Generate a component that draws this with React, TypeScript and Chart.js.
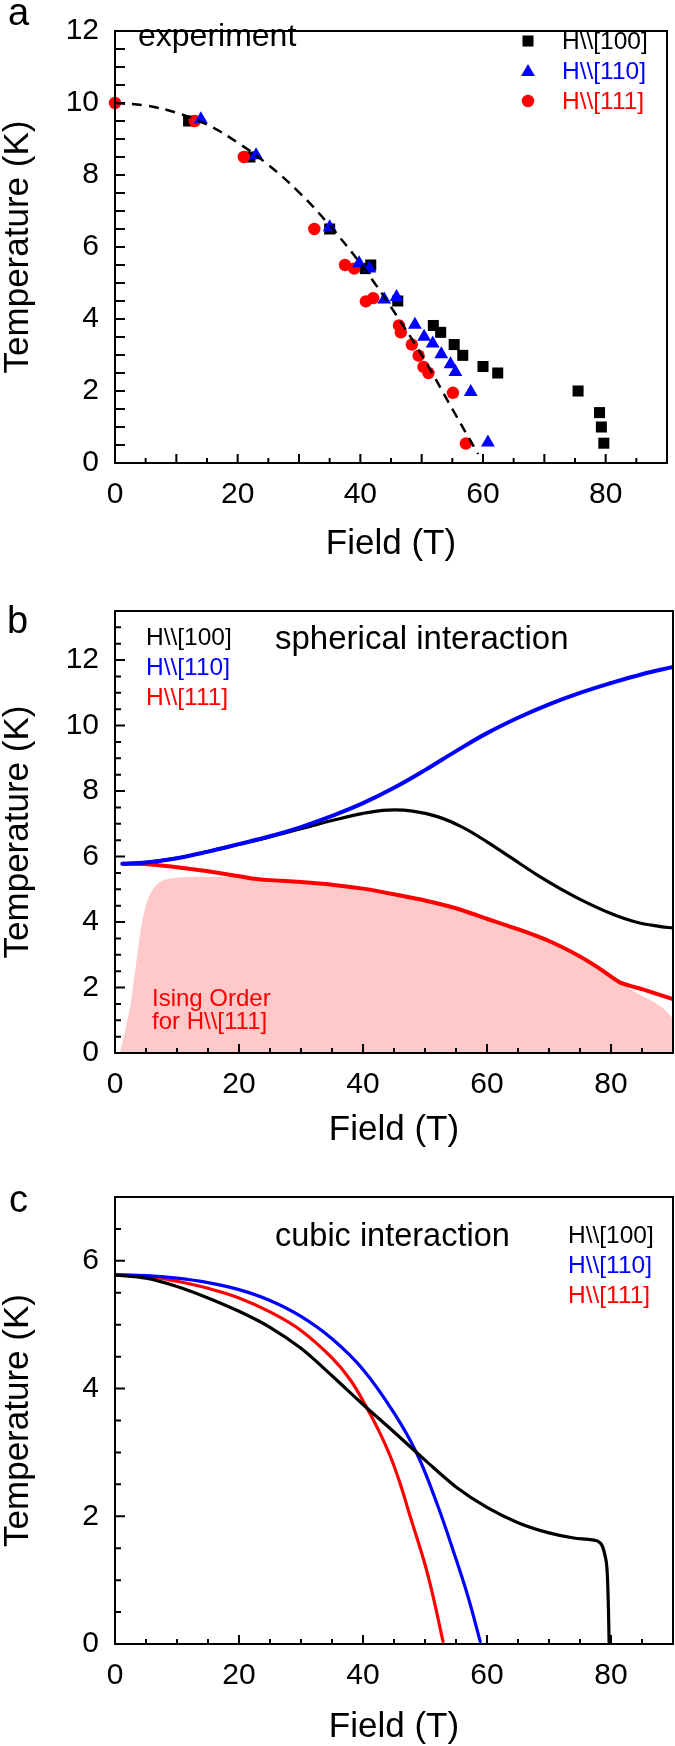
import React, { useEffect, useRef } from "react";
import { Chart, registerables } from "chart.js";
Chart.register(...registerables);

const FONT = '"Liberation Sans", Arial, sans-serif';
const BLUE = "#0000ff";
const RED = "#ff0000";
const BLACK = "#000000";
const PINK = "#ffc9c9";

// ---------- Panel a : experiment ----------
const fitField = [0, 5, 10, 15, 20, 25, 30, 35, 40, 42.2, 45, 50, 55, 59.2];
const fitTemp = [10, 9.93, 9.73, 9.4, 8.9, 8.28, 7.52, 6.6, 5.55, 5.03, 4.33, 3.0, 1.5, 0.25];

const exp100Field = [12, 22, 35, 40.8, 41.7, 46.1, 51.9, 53.1, 55.3, 56.7, 60.0, 62.4, 75.5, 79.0, 79.3, 79.7];
const exp100Temp = [9.5, 8.5, 6.5, 5.4, 5.5, 4.5, 3.82, 3.63, 3.29, 2.99, 2.68, 2.5, 2.0, 1.4, 1.0, 0.55];

const exp110Field = [14, 23, 35, 39.8, 41.5, 43.9, 45.9, 48.9, 50.4, 51.8, 53.2, 54.7, 55.5, 58.0, 60.8];
const exp110Temp = [9.55, 8.55, 6.55, 5.55, 5.4, 4.54, 4.61, 3.84, 3.51, 3.32, 3.02, 2.74, 2.53, 1.97, 0.57];

const exp111Field = [0, 13, 21, 32.5, 37.5, 39, 40.9, 42.1, 46.3, 46.6, 48.4, 49.5, 50.3, 51.1, 55.1, 57.2];
const exp111Temp = [10, 9.5, 8.5, 6.5, 5.5, 5.4, 4.49, 4.58, 3.82, 3.63, 3.29, 2.98, 2.67, 2.5, 1.95, 0.54];

// ---------- Panel b : spherical interaction ----------
const sph110Field = [1.2, 5, 10, 15, 20, 25, 30, 35, 40, 45, 50, 55, 60, 65, 70, 75, 80, 85, 90];
const sph110Temp = [5.78, 5.82, 5.95, 6.15, 6.38, 6.62, 6.9, 7.24, 7.63, 8.1, 8.64, 9.22, 9.77, 10.24, 10.65, 11.0, 11.3, 11.57, 11.79];

const sph100Field = [1.2, 5, 10, 15, 20, 25, 30, 35, 40, 44, 48, 52, 56, 60, 64, 68, 72, 76, 80, 84, 88, 90];
const sph100Temp = [5.78, 5.82, 5.95, 6.15, 6.38, 6.6, 6.85, 7.1, 7.32, 7.42, 7.39, 7.22, 6.9, 6.45, 5.95, 5.45, 5.0, 4.6, 4.26, 4.0, 3.86, 3.82];

const sph111Field = [1.2, 5, 10, 15, 20, 22, 25, 30, 35, 40, 45, 50, 55, 60, 65, 70, 75, 78, 81.5, 85, 90];
const sph111Temp = [5.78, 5.77, 5.67, 5.55, 5.4, 5.33, 5.28, 5.22, 5.14, 5.02, 4.85, 4.66, 4.42, 4.1, 3.78, 3.42, 2.95, 2.6, 2.15, 1.95, 1.65];

const isingField = [0.8, 1.4, 2.0, 2.6, 3.1, 3.6, 4.1, 4.7, 5.4, 6.3, 7.5, 9, 11, 15, 21, 22, 25, 30, 35, 40, 45, 50, 55, 60, 65, 70, 75, 78, 81.5, 84, 86.5, 88.5, 90];
const isingTemp = [0, 0.5, 1.0, 1.6, 2.3, 3.0, 3.7, 4.3, 4.75, 5.05, 5.25, 5.33, 5.37, 5.38, 5.37, 5.3, 5.24, 5.18, 5.1, 4.98, 4.81, 4.62, 4.38, 4.06, 3.74, 3.38, 2.91, 2.56, 2.12, 1.85, 1.6, 1.35, 1.05];

// ---------- Panel c : cubic interaction ----------
const cub100Field = [0, 5, 10, 15, 20, 25, 30, 35, 40, 45, 50, 55, 60, 65, 70, 74, 77, 78.3, 79, 79.4, 79.6, 79.7];
const cub100Temp = [5.78, 5.73, 5.6, 5.42, 5.21, 4.96, 4.63, 4.2, 3.75, 3.32, 2.88, 2.46, 2.14, 1.9, 1.74, 1.66, 1.63, 1.58, 1.4, 1.1, 0.5, 0];

const cub110Field = [0, 5, 10, 15, 20, 25, 30, 35, 40, 45, 48.7, 52, 55, 57, 58.9];
const cub110Temp = [5.78, 5.77, 5.73, 5.66, 5.55, 5.38, 5.13, 4.78, 4.3, 3.62, 2.98, 2.18, 1.33, 0.72, 0.04];

const cub111Field = [0, 5, 10, 15, 20, 25, 30, 35, 38, 40.6, 42.5, 44.4, 46, 47.6, 49, 50.3, 51.6, 52.9];
const cub111Temp = [5.78, 5.76, 5.68, 5.57, 5.42, 5.2, 4.91, 4.48, 4.13, 3.7, 3.35, 2.94, 2.51, 2.0, 1.57, 1.14, 0.62, 0.04];

// axis tick labels
const xTickStep = 20;
const yTickStep = 2;

const pts = (xs: number[], ys: number[]) => xs.map((x, i) => ({ x, y: ys[i] }));

type TextItem = { text: string; x: number; y: number; color: string; size: number; baseline?: CanvasTextBaseline };
type Marker = { style: "rect" | "triangle" | "circle"; x: number; y: number; color: string; r: number };

interface PanelCfg {
  top: number;
  height: number;
  chartTop: number;
  chartBottom: number;
  yMax: number;
  xMajor: number;
  yMajor: number;
  xTitlePad: number;
  datasets: any[];
  texts: TextItem[];
  markers: Marker[];
}

const R_RECT = 7.8;
const R_TRI = 8;
const R_CIRC = 6.2;

function drawMarker(ctx: CanvasRenderingContext2D, m: Marker) {
  ctx.fillStyle = m.color;
  ctx.beginPath();
  if (m.style === "rect") {
    const s = Math.SQRT1_2 * m.r;
    ctx.rect(m.x - s, m.y - s, 2 * s, 2 * s);
  } else if (m.style === "triangle") {
    ctx.moveTo(m.x, m.y - m.r);
    ctx.lineTo(m.x + 0.866 * m.r, m.y + 0.5 * m.r);
    ctx.lineTo(m.x - 0.866 * m.r, m.y + 0.5 * m.r);
    ctx.closePath();
  } else {
    ctx.arc(m.x, m.y, m.r, 0, Math.PI * 2);
  }
  ctx.fill();
}

function decorPlugin(cfg: PanelCfg) {
  return {
    id: "decor",
    afterDatasetsDraw(chart: any) {
      const { ctx, chartArea: a, scales } = chart;
      const xs = scales.x;
      const ys = scales.y;
      ctx.save();
      ctx.strokeStyle = BLACK;
      ctx.lineWidth = 2;
      ctx.beginPath();
      for (let v = 5; v < 90; v += 5) {
        const px = xs.getPixelForValue(v);
        const len = v % cfg.xMajor === 0 ? 9 : 5;
        ctx.moveTo(px, a.bottom);
        ctx.lineTo(px, a.bottom - len);
      }
      for (let k = 1; k * 0.5 < cfg.yMax - 1e-6; k++) {
        const v = k * 0.5;
        const py = ys.getPixelForValue(v);
        const len = Math.abs(v / cfg.yMajor - Math.round(v / cfg.yMajor)) < 1e-6 ? 10 : 6;
        ctx.moveTo(a.left, py);
        ctx.lineTo(a.left + len, py);
      }
      ctx.stroke();
      ctx.strokeRect(a.left, a.top, a.right - a.left, a.bottom - a.top);
      ctx.restore();
    },
    afterDraw(chart: any) {
      const ctx: CanvasRenderingContext2D = chart.ctx;
      ctx.save();
      for (const t of cfg.texts) {
        ctx.font = `${t.size}px ${FONT}`;
        ctx.fillStyle = t.color;
        ctx.textAlign = "left";
        ctx.textBaseline = t.baseline ?? "alphabetic";
        ctx.fillText(t.text, t.x, t.y);
      }
      for (const m of cfg.markers) drawMarker(ctx, m);
      ctx.restore();
    },
  };
}

function buildConfig(cfg: PanelCfg): any {
  const tickFont = { family: FONT, size: 30, lineHeight: 1 };
  const titleFont = { family: FONT, size: 35, lineHeight: 1 };
  return {
    type: "scatter",
    data: { datasets: cfg.datasets },
    plugins: [decorPlugin(cfg)],
    options: {
      animation: false,
      responsive: false,
      events: [],
      layout: { padding: { left: 0, right: 2, top: cfg.chartTop, bottom: 0 } },
      plugins: { legend: { display: false }, tooltip: { enabled: false } },
      scales: {
        x: {
          type: "linear",
          min: 0,
          max: 90,
          afterFit: (s: any) => {
            s.height = cfg.height - cfg.chartBottom;
          },
          grid: { display: false, drawTicks: false },
          border: { display: false },
          ticks: {
            stepSize: xTickStep,
            includeBounds: false,
            autoSkip: false,
            maxRotation: 0,
            padding: 17,
            color: BLACK,
            font: tickFont,
            callback: (v: number) => (v % xTickStep === 0 ? String(v) : ""),
          },
          title: { display: true, text: "Field (T)", color: BLACK, font: titleFont, padding: { top: 0, bottom: cfg.xTitlePad } },
        },
        y: {
          type: "linear",
          min: 0,
          max: cfg.yMax,
          afterFit: (s: any) => {
            s.width = 115;
          },
          grid: { display: false, drawTicks: false },
          border: { display: false },
          ticks: {
            stepSize: yTickStep,
            includeBounds: false,
            autoSkip: false,
            padding: 16,
            color: BLACK,
            font: tickFont,
            callback: (v: number) => (v % yTickStep === 0 ? String(v) : ""),
          },
          title: { display: true, text: "Temperature (K)", color: BLACK, font: titleFont, padding: { top: 1, bottom: 0 } },
        },
      },
    },
  };
}

const lineDs = (xs: number[], ys: number[], color: string, width: number, extra: any = {}) => ({
  data: pts(xs, ys),
  showLine: true,
  borderColor: color,
  backgroundColor: color,
  borderWidth: width,
  pointRadius: 0,
  tension: 0.4,
  borderJoinStyle: "round",
  borderCapStyle: "round",
  fill: false,
  ...extra,
});

const pointDs = (xs: number[], ys: number[], color: string, style: string, r: number) => ({
  data: pts(xs, ys),
  showLine: false,
  pointStyle: style,
  pointRadius: r,
  pointBackgroundColor: color,
  pointBorderColor: color,
  pointBorderWidth: 0,
  backgroundColor: color,
  borderColor: color,
  clip: false,
});

const L100 = "H\\\\[100]";
const L110 = "H\\\\[110]";
const L111 = "H\\\\[111]";

const panelA: PanelCfg = {
  top: 0,
  height: 580,
  chartTop: 14,
  chartBottom: 463,
  yMax: 12,
  xMajor: 10,
  yMajor: 0.5,
  xTitlePad: 18.5,
  datasets: [
    lineDs(fitField, fitTemp, BLACK, 2.5, { borderDash: [10, 7], borderCapStyle: "butt" }),
    pointDs(exp110Field, exp110Temp, BLUE, "triangle", R_TRI),
    pointDs(exp111Field, exp111Temp, RED, "circle", R_CIRC),
    pointDs(exp100Field, exp100Temp, BLACK, "rect", R_RECT),
  ],
  texts: [
    { text: "a", x: 8, y: 25, color: BLACK, size: 38 },
    { text: "experiment", x: 138, y: 46, color: BLACK, size: 32 },
    { text: L100, x: 562, y: 42, color: BLACK, size: 24.5, baseline: "middle" },
    { text: L110, x: 562, y: 72, color: BLUE, size: 24.5, baseline: "middle" },
    { text: L111, x: 562, y: 102, color: RED, size: 24.5, baseline: "middle" },
  ],
  markers: [
    { style: "rect", x: 528, y: 41, color: BLACK, r: R_RECT },
    { style: "triangle", x: 528, y: 72, color: BLUE, r: R_TRI },
    { style: "circle", x: 528, y: 101, color: RED, r: R_CIRC },
  ],
};

const panelB: PanelCfg = {
  top: 580,
  height: 580,
  chartTop: 24,
  chartBottom: 473,
  yMax: 13.5,
  xMajor: 20,
  yMajor: 2,
  xTitlePad: 12.5,
  datasets: [
    lineDs(sph110Field, sph110Temp, BLUE, 4),
    lineDs(sph100Field, sph100Temp, BLACK, 3.2),
    lineDs(sph111Field, sph111Temp, RED, 4, { tension: 0.2 }),
    lineDs(isingField, isingTemp, "rgba(0,0,0,0)", 0, { fill: "origin", backgroundColor: PINK, tension: 0.3 }),
  ],
  texts: [
    { text: "b", x: 7, y: 53, color: BLACK, size: 38 },
    { text: L100, x: 146, y: 58, color: BLACK, size: 24.5, baseline: "middle" },
    { text: L110, x: 146, y: 88, color: BLUE, size: 24.5, baseline: "middle" },
    { text: L111, x: 146, y: 118, color: RED, size: 24.5, baseline: "middle" },
    { text: "spherical interaction", x: 275, y: 69, color: BLACK, size: 33 },
    { text: "Ising Order", x: 152, y: 426, color: RED, size: 24 },
    { text: "for " + L111, x: 152, y: 449, color: RED, size: 24 },
  ],
  markers: [],
};

const panelC: PanelCfg = {
  top: 1160,
  height: 586,
  chartTop: 37,
  chartBottom: 484,
  yMax: 7,
  xMajor: 20,
  yMajor: 2,
  xTitlePad: 1.5,
  datasets: [
    lineDs(cub100Field, cub100Temp, BLACK, 3.2, { tension: 0, cubicInterpolationMode: "monotone" }),
    lineDs(cub110Field, cub110Temp, BLUE, 3.2),
    lineDs(cub111Field, cub111Temp, RED, 3.2),
  ],
  texts: [
    { text: "c", x: 9, y: 52, color: BLACK, size: 38 },
    { text: "cubic interaction", x: 275, y: 86, color: BLACK, size: 32.5 },
    { text: L100, x: 568, y: 76, color: BLACK, size: 24.5, baseline: "middle" },
    { text: L110, x: 568, y: 106, color: BLUE, size: 24.5, baseline: "middle" },
    { text: L111, x: 568, y: 136, color: RED, size: 24.5, baseline: "middle" },
  ],
  markers: [],
};

function Panel({ cfg }: { cfg: PanelCfg }) {
  const ref = useRef<HTMLCanvasElement | null>(null);
  useEffect(() => {
    if (!ref.current) return;
    const chart = new Chart(ref.current, buildConfig(cfg));
    return () => chart.destroy();
  }, [cfg]);
  return (
    <canvas
      ref={ref}
      width={675}
      height={cfg.height}
      style={{ position: "absolute", left: 0, top: cfg.top, width: 675, height: cfg.height }}
    />
  );
}

export default function App() {
  return (
    <div style={{ position: "absolute", left: 0, top: 0, width: 675, height: 1746, background: "#fff", overflow: "hidden" }}>
      <Panel cfg={panelA} />
      <Panel cfg={panelB} />
      <Panel cfg={panelC} />
    </div>
  );
}
